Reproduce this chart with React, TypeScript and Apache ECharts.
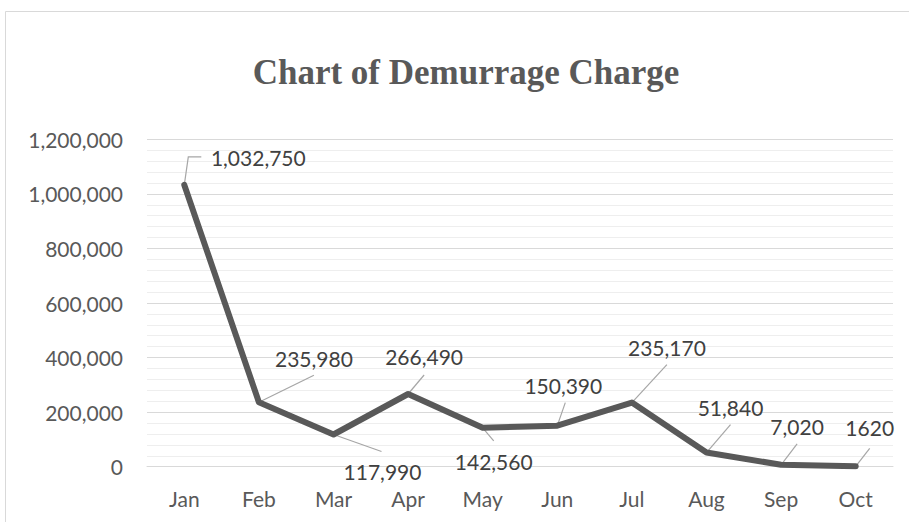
import React, { useEffect, useRef } from 'react';
import * as echarts from 'echarts';

const categories = ['Jan', 'Feb', 'Mar', 'Apr', 'May', 'Jun', 'Jul', 'Aug', 'Sep', 'Oct'];
const charges = [1032750, 235980, 117990, 266490, 142560, 150390, 235170, 51840, 7020, 1620];
const dataLabels = ['1,032,750', '235,980', '117,990', '266,490', '142,560', '150,390', '235,170', '51,840', '7,020', '1620'];
const yMin = 0;
const yMax = 1200000;
const yStep = 200000;
const titleText = 'Chart of Demurrage Charge';

// label centre offsets relative to the point (px)
const labelOffsets: number[][] = [
  [74, -27], [55, -44], [49, 37], [16, -37], [11, 34],
  [6, -40], [35, -55], [24, -45], [16, -38], [14, -39],
];
// leader line points relative to the point (px), the point itself is first
const leaderPoints: number[][][] = [
  [[4, -28], [17, -28]],
  [[55, -27]],
  [[48, 17]],
  [[16, -19]],
  [[11, 13]],
  [[8, -23]],
  [[35, -38]],
  [[24, -28]],
  [[16, -21]],
  [[14, -18]],
];

const FONT = 'Lato, "Open Sans", sans-serif';

export default function App() {
  const ref = useRef<HTMLDivElement>(null);
  useEffect(() => {
    if (!ref.current) return;
    const chart = echarts.init(ref.current, null, { renderer: 'svg' });
    chart.setOption({
      animation: false,
      backgroundColor: '#ffffff',
      graphic: [
        {
          type: 'rect',
          shape: { x: 5.5, y: 11.5, width: 1000, height: 1000 },
          style: { fill: 'none', stroke: '#d9d9d9', lineWidth: 1 },
          silent: true,
          z: -1,
        },
        {
          type: 'text',
          x: 466,
          y: 72,
          style: {
            text: titleText,
            fill: '#595959',
            font: 'bold 35px "Liberation Serif", "Times New Roman", serif',
            textAlign: 'center',
            textVerticalAlign: 'middle',
          },
        },
      ],
      grid: { left: 147, right: 16, top: 139.3, bottom: 55.3, containLabel: false },
      xAxis: {
        type: 'category',
        data: categories,
        boundaryGap: true,
        axisLine: { show: true, lineStyle: { color: '#d9d9d9', width: 1 } },
        axisTick: { show: false },
        axisLabel: { color: '#595959', fontSize: 21, fontFamily: FONT, margin: 21 },
        splitLine: { show: false },
      },
      yAxis: {
        type: 'value',
        min: yMin,
        max: yMax,
        interval: yStep,
        axisLine: { show: false },
        axisTick: { show: false },
        axisLabel: {
          color: '#595959',
          fontSize: 21,
          fontFamily: FONT,
          margin: 24,
          formatter: (v: number) => v.toLocaleString('en-US'),
        },
        splitLine: { show: true, lineStyle: { color: '#d9d9d9', width: 1 } },
        minorTick: { show: false, splitNumber: 5 },
        minorSplitLine: { show: true, lineStyle: { color: '#eeeeee', width: 1 } },
      },
      series: [
        {
          type: 'custom',
          data: charges.map((v, i) => [i, v]),
          renderItem: (params: any, api: any) => {
            const i = params.dataIndex;
            const pt = api.coord([api.value(0), api.value(1)]);
            const pts = [pt].concat(leaderPoints[i].map((q) => [pt[0] + q[0], pt[1] + q[1]]));
            return {
              type: 'polyline',
              shape: { points: pts },
              style: { stroke: '#a6a6a6', lineWidth: 1.2, fill: 'none' },
            };
          },
          silent: true,
          z: 2,
        },
        {
          type: 'line',
          data: charges,
          symbol: 'circle',
          symbolSize: 1,
          showSymbol: true,
          itemStyle: { color: '#595959' },
          lineStyle: { color: '#595959', width: 6, cap: 'round', join: 'round' },
          label: {
            show: true,
            position: 'inside',
            color: '#404040',
            fontSize: 21,
            fontFamily: FONT,
            formatter: (p: any) => dataLabels[p.dataIndex],
          },
          labelLine: { show: false },
          labelLayout: (p: any) => {
            const cx = p.rect.x + p.rect.width / 2;
            const cy = p.rect.y + p.rect.height / 2;
            const [dx, dy] = labelOffsets[p.dataIndex];
            return { x: cx + dx, y: cy + dy, align: 'center', verticalAlign: 'middle' };
          },
          z: 3,
        },
      ],
    });
    return () => chart.dispose();
  }, []);
  return (
    <div
      ref={ref}
      style={{ position: 'absolute', left: 0, top: 0, width: 909, height: 522 }}
    />
  );
}
